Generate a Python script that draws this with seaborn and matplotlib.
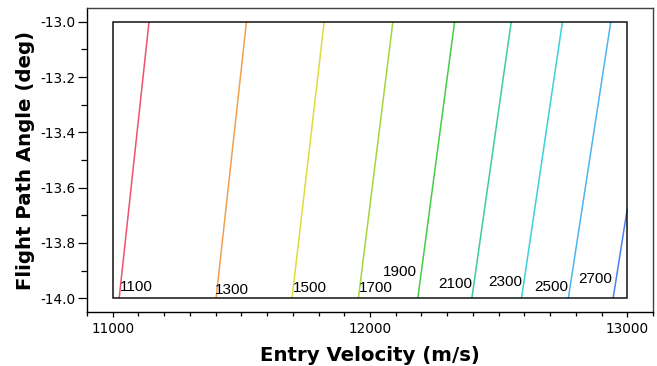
import numpy as np
import matplotlib
matplotlib.use("Agg")
import matplotlib.pyplot as plt
from matplotlib.ticker import MultipleLocator
from matplotlib.patches import Rectangle
import seaborn as sns

# ---- data ----
levels = [1100, 1300, 1500, 1700, 1900, 2100, 2300, 2500, 2700]
# entry velocity where each contour crosses gamma = -14 and gamma = -13
v_at_bottom = [11025, 11402, 11697, 11955, 12186, 12396, 12589, 12771, 12945]
v_at_top = [11141, 11520, 11822, 12089, 12329, 12549, 12748, 12936, 13115]
line_colors = ["#f0506e", "#f0a050", "#dcdc3c", "#a8d43c", "#46cc46",
               "#3ccc9a", "#3cd0d8", "#50b4ec", "#4a80f0"]
label_text = ["1100", "1300", "1500", "1700", "1900", "2100", "2300", "2500", "2700"]
label_v = [11093, 11465, 11765, 12021, 12118, 12333, 12527, 12703, 12876]
label_g = [-13.958, -13.969, -13.962, -13.962, -13.907, -13.947, -13.940, -13.958, -13.929]
v_range = [11000, 13000]
g_range = [-14.0, -13.0]

# ---- build the field from the read crossings ----
V = np.linspace(v_range[0], v_range[1], 401)
G = np.linspace(g_range[0], g_range[1], 201)
lv = np.array(levels, float)
vb = np.array(v_at_bottom, float)
vt = np.array(v_at_top, float)
Z = np.empty((G.size, V.size))
for i, g in enumerate(G):
    f = (g - g_range[0]) / (g_range[1] - g_range[0])
    c = vb + (vt - vb) * f
    c_ext = np.concatenate([[c[0] - (c[1] - c[0]) * 3], c, [c[-1] + (c[-1] - c[-2]) * 3]])
    l_ext = np.concatenate([[lv[0] - (lv[1] - lv[0]) * 3], lv, [lv[-1] + (lv[-1] - lv[-2]) * 3]])
    Z[i] = np.interp(V, c_ext, l_ext)

sns.set_style("ticks")
plt.rcParams["font.family"] = ["DejaVu Sans"]
plt.rcParams["text.color"] = "black"
plt.rcParams["axes.labelcolor"] = "black"
plt.rcParams["xtick.color"] = "black"
plt.rcParams["ytick.color"] = "black"

fig = plt.figure(figsize=(6.57, 3.66), dpi=100)
ax = fig.add_axes([87 / 657, 1 - 312 / 366, (653 - 87) / 657, (312 - 8) / 366])

palette = sns.color_palette(line_colors)
ax.contour(V, G, Z, levels=levels, colors=palette, linewidths=1.1)

ax.add_patch(Rectangle((v_range[0], g_range[0]), v_range[1] - v_range[0],
                       g_range[1] - g_range[0], fill=False, edgecolor="#111111",
                       linewidth=1.1, zorder=5))

for t, x, y in zip(label_text, label_v, label_g):
    ax.text(x, y, t, ha="center", va="center", fontsize=11,
            family=["Liberation Sans", "DejaVu Sans"], color="black", zorder=6)

ax.set_xlim(10900, 13100)
ax.set_ylim(-14.05, -12.95)
ax.xaxis.set_major_locator(MultipleLocator(1000))
ax.xaxis.set_minor_locator(MultipleLocator(100))
ax.yaxis.set_major_locator(MultipleLocator(0.2))
ax.yaxis.set_minor_locator(MultipleLocator(0.1))
ax.yaxis.set_major_formatter(matplotlib.ticker.FormatStrFormatter("%.1f"))

ax.tick_params(axis="x", which="major", length=3.8, width=0.9, direction="out",
               pad=3.5, labelsize=9.8, color="black", labelcolor="black")
ax.tick_params(axis="x", which="minor", length=3.0, width=0.9, direction="out", color="black")
ax.tick_params(axis="y", which="major", length=6.5, width=0.9, direction="out",
               pad=2, labelsize=9.8, color="black", labelcolor="black")
ax.tick_params(axis="y", which="minor", length=4.3, width=0.9, direction="out", color="black")

for s in ["left", "bottom"]:
    ax.spines[s].set_color("black")
    ax.spines[s].set_linewidth(1.0)
for s in ["top", "right"]:
    ax.spines[s].set_visible(True)
    ax.spines[s].set_color("#404040")
    ax.spines[s].set_linewidth(1.0)

ax.set_xlabel("Entry Velocity (m/s)", fontsize=14.2, fontweight="bold",
              labelpad=7, color="black")
ax.set_ylabel("Flight Path Angle (deg)", fontsize=14.2, fontweight="bold",
              labelpad=4, color="black")

fig.savefig("out.png", dpi=100)
